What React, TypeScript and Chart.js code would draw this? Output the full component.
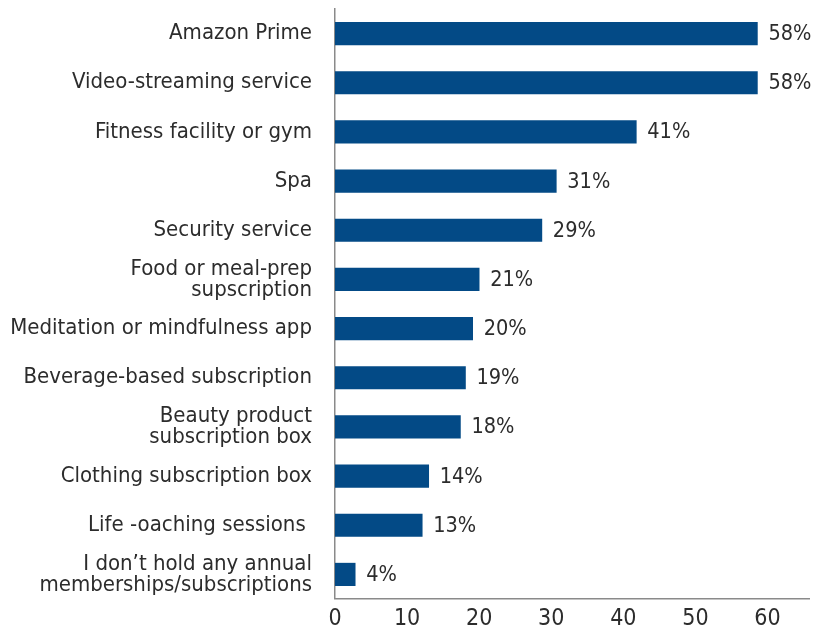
import React, { useEffect, useRef } from "react";
import { Chart, registerables } from "chart.js";

Chart.register(...registerables);

const categories: (string | string[])[] = [
  "Amazon Prime",
  "Video-streaming service",
  "Fitness facility or gym",
  "Spa",
  "Security service",
  ["Food or meal-prep", "supscription"],
  "Meditation or mindfulness app",
  "Beverage-based subscription",
  ["Beauty product", "subscription box"],
  "Clothing subscription box",
  "Life -oaching sessions ",
  ["I don\u2019t hold any annual", "memberships/subscriptions"],
];

const values = [58.6, 58.6, 41.8, 30.7, 28.7, 20.0, 19.1, 18.1, 17.4, 13.0, 12.1, 2.8];

const valueLabels = ["58%", "58%", "41%", "31%", "29%", "21%", "20%", "19%", "18%", "14%", "13%", "4%"];

const xTicks = [0, 10, 20, 30, 40, 50, 60];

const FONT = "'DejaVu Sans Condensed', 'DejaVu Sans', sans-serif";
const TEXT = "#2c2c2c";
const BAR = "#034A86";
const AXIS = "#8a8a8a";

const valueLabelPlugin = {
  id: "valueLabels",
  afterDatasetsDraw(chart: any) {
    const ctx = chart.ctx;
    const meta = chart.getDatasetMeta(0);
    ctx.save();
    ctx.font = `21.5px ${FONT}`;
    ctx.fillStyle = TEXT;
    ctx.textAlign = "left";
    ctx.textBaseline = "middle";
    meta.data.forEach((bar: any, i: number) => {
      ctx.fillText(valueLabels[i], bar.x + 11, bar.y + 1);
    });
    ctx.restore();
  },
};

export default function App() {
  const ref = useRef<HTMLCanvasElement | null>(null);
  useEffect(() => {
    if (!ref.current) return;
    const chart = new Chart(ref.current, {
      type: "bar",
      data: {
        labels: categories,
        datasets: [
          {
            data: values,
            backgroundColor: BAR,
            borderWidth: 0,
            barThickness: 22.5,
          },
        ],
      },
      options: {
        indexAxis: "y",
        responsive: false,
        animation: false,
        maintainAspectRatio: false,
        layout: { padding: { top: 9, right: 4, bottom: 0, left: 0 } },
        plugins: {
          legend: { display: false },
          tooltip: { enabled: false },
        },
        scales: {
          x: {
            type: "linear",
            min: 0,
            max: 65.9,
            afterBuildTicks: (scale: any) => {
              scale.ticks = xTicks.map((v) => ({ value: v }));
            },
            afterFit: (scale: any) => {
              scale.height = 31;
              scale.paddingLeft = 0;
              scale.paddingRight = 0;
            },
            grid: { display: true, color: "rgba(0,0,0,0)", lineWidth: 0, drawTicks: false },
            border: { display: true, color: AXIS, width: 1.5 },
            ticks: {
              padding: 6,
              color: TEXT,
              font: { family: FONT, size: 23 },
              maxRotation: 0,
            },
          },
          y: {
            type: "category",
            afterFit: (scale: any) => {
              scale.width = 335;
              scale.paddingTop = 0;
              scale.paddingBottom = 0;
            },
            grid: { display: true, color: "rgba(0,0,0,0)", lineWidth: 0, drawTicks: false },
            border: { display: true, color: AXIS, width: 1.5 },
            ticks: {
              padding: 23,
              color: TEXT,
              font: { family: FONT, size: 22, lineHeight: 0.96 },
              autoSkip: false,
            },
          },
        },
      },
      plugins: [valueLabelPlugin],
    });
    return () => chart.destroy();
  }, []);
  return (
    <div style={{ position: "absolute", left: 0, top: 0, width: 814, height: 630, background: "#fff" }}>
      <canvas ref={ref} width={814} height={630} />
    </div>
  );
}
